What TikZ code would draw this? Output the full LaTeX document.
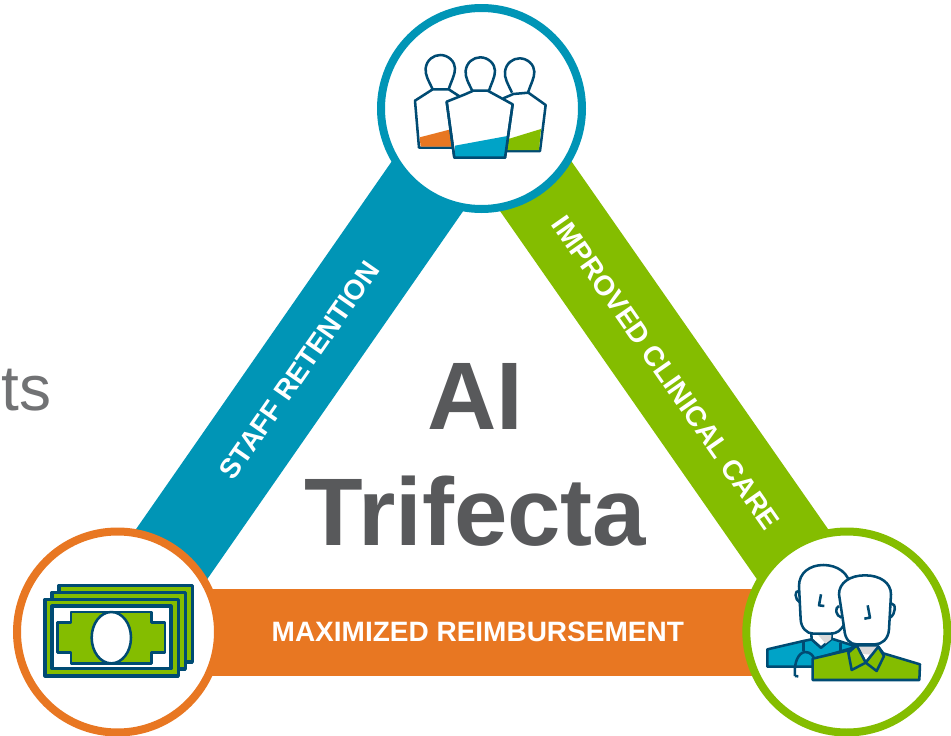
\documentclass[tikz,border=0pt]{standalone}
\usepackage{fontspec}
\setmainfont{Liberation Sans}
\usetikzlibrary{backgrounds}
\definecolor{bandblue}{HTML}{0095B6}
\definecolor{bandgreen}{HTML}{84BD00}
\definecolor{bandorange}{HTML}{E87722}
\definecolor{iconblue}{HTML}{00A3C7}
\definecolor{iconline}{HTML}{004B73}
\definecolor{titlegray}{HTML}{58595B}
\begin{document}
\begin{tikzpicture}[x=0.75pt, y=-0.75pt, node distance={547pt},
    ring/.style = {draw, circle, fill=white, line width=6pt, minimum size=150.75pt, inner sep=0pt},
    band/.style = {line width=65.25pt},
    bandtext/.style = {text=white, font=\bfseries\fontsize{21}{25}\selectfont},
    icon/.style = {x=0.25pt, y=-0.25pt, draw=iconline, line width=1.9pt, line join=round}]
    \useasboundingbox (0,0) rectangle (951,736);
    \node[ring, draw=bandblue] (people) at (481.5,108.5) {};
    \node[ring, draw=bandorange] (cash) at (117.5,632) {};
    \node[ring, draw=bandgreen] (doctors) [right of=cash] {};
    \begin{scope}[on background layer]
        \draw[band, bandblue] (cash.center) -- (people.center) node[midway, bandtext, sloped] (retention) {STAFF RETENTION};
        \draw[band, bandgreen] (people.center) -- (doctors.center) node[pos=0.505, bandtext, sloped] (clinical) {IMPROVED CLINICAL CARE};
        \draw[band, bandorange] (cash.center) -- (doctors.center) node[pos=0.494, bandtext] (reimbursement) {MAXIMIZED REIMBURSEMENT};
    \end{scope}
    \node[text=titlegray, align=center, font=\bfseries\fontsize{72}{87}\selectfont] (title) at (475.5,455) {AI\\Trifecta};
    \node[text=titlegray!85, anchor=base west, inner sep=0pt, font=\fontsize{48}{56}\selectfont] (cutoff) at (1,410) {ts};
    % people icon
    \begin{scope}[shift={(370,0)}, icon]
        \foreach \hx/\hy in {0/0,120/7,238/10}
            \draw[shift={(\hx,\hy)}] (188,268) .. controls (175,240) and (165,225) .. (167,205) .. controls (170,180) and (190,165) .. (211,165) .. controls (235,165) and (255,185) .. (255,205) .. controls (255,225) and (245,240) .. (236,268);
        \draw[fill=white] (270,290) -- (236,268) -- (188,268) -- (135,302) -- (147,443) -- (260,443);
        \fill[bandorange] (149,412) -- (242,388) -- (250,440) -- (152,440) -- cycle;
        \draw[fill=white] (400,295) -- (430,282) -- (475,278) -- (527,315) -- (510,453) -- (400,453);
        \fill[bandgreen] (415,417) -- (513,387) -- (507,450) -- (408,450) -- cycle;
        \draw[fill=white] (230,305) -- (285,283) -- (310,272) -- (353,272) -- (428,313) -- (405,473) -- (253,473) -- cycle;
        \draw[fill=iconblue, draw=none] (255,437) -- (412,408) -- (405,471) -- (255,471) -- cycle;
        \draw (230,305) -- (253,473) -- (405,473) -- (428,313);
    \end{scope}
    % cash icon
    \begin{scope}[shift={(0,516)}, icon]
        \foreach \nx in {42,21,0}
            \draw[fill=bandgreen, line width=2.4pt, shift={(\nx,-\nx)}] (135,250) rectangle (535,480);
        \draw[fill=white, line width=2.4pt] (156,270) rectangle (513,458);
        \draw[fill=bandgreen] (213,288) -- (455,288) -- (455,320) -- (495,320) -- (495,410) -- (455,410) -- (455,442) -- (213,442) -- (213,410) -- (172,410) -- (172,320) -- (213,320) -- cycle;
        \draw[fill=white] (334,365) ellipse (59 and 77);
    \end{scope}
    % doctors icon
    \begin{scope}[shift={(735,516)}, icon]
        \draw[fill=iconblue] (97,400) -- (205,375) -- (230,370) -- (258,395) -- (290,368) -- (365,392) -- (235,430) -- (235,452) -- (97,452) -- cycle;
        \draw (205,378) -- (205,405) (316,380) -- (316,410);
        \draw (180,480) .. controls (176,440) and (190,410) .. (210,408) .. controls (225,408) and (235,418) .. (238,430);
        \draw (180,480) -- (190,481);
        \draw[fill=white] (228,340) -- (230,370) -- (258,395) -- (290,368) -- (290,340) -- cycle;
        \fill[black!15] (245,352) -- (290,352) -- (288,370) -- (272,383) -- cycle;
        \draw[fill=white] (192,225) .. controls (178,222) and (178,250) .. (195,260);
        \draw[fill=white] (192,210) .. controls (192,170) and (225,147) .. (265,147) .. controls (305,147) and (345,170) .. (345,215) -- (330,320) .. controls (318,345) and (305,353) .. (285,353) -- (235,353) .. controls (215,353) and (198,335) .. (197,310) -- cycle;
        \draw (258,235) -- (252,268) -- (268,270);
        \draw[fill=bandgreen] (233,492) -- (233,428) -- (340,403) -- (365,385) -- (430,392) -- (445,412) -- (555,445) -- (553,492) -- cycle;
        \draw[fill=white] (365,388) -- (392,440) -- (430,392) -- cycle;
        \fill[black!15] (372,392) -- (426,392) -- (408,416) -- (382,414) -- cycle;
        \draw[fill=bandgreen] (365,388) -- (392,440) -- (350,462) -- (340,410) -- cycle;
        \draw[fill=bandgreen] (430,392) -- (447,420) -- (425,465) -- (392,440) -- cycle;
        \draw[fill=white] (312,270) .. controls (298,275) and (302,300) .. (320,305);
        \draw[fill=white] (468,262) .. controls (485,262) and (482,295) .. (465,305);
        \draw[fill=white] (312,235) .. controls (312,200) and (345,178) .. (390,178) .. controls (435,178) and (468,200) .. (468,235) -- (462,340) .. controls (460,370) and (440,385) .. (420,385) -- (365,385) .. controls (345,385) and (330,370) .. (328,340) -- cycle;
        \draw (398,268) -- (405,305) -- (388,308);
    \end{scope}
\end{tikzpicture}
\end{document}
